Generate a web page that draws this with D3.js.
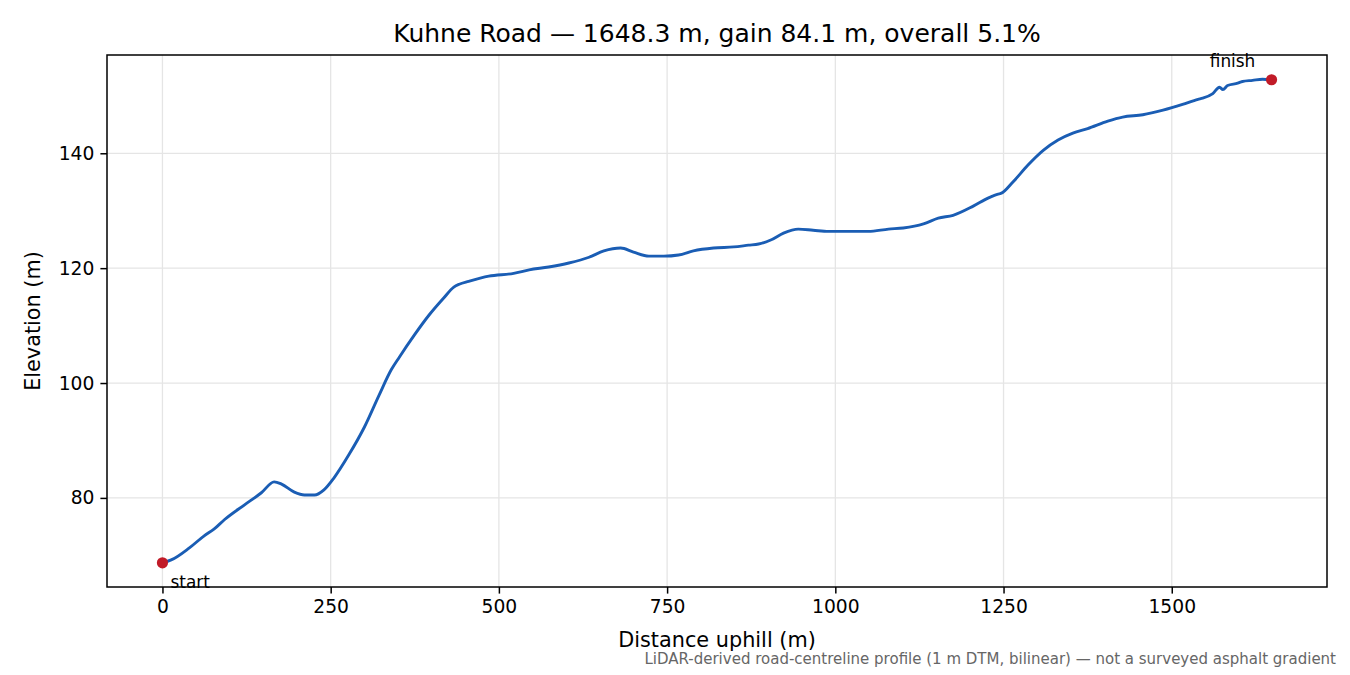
<!DOCTYPE html>
<html>
<head>
<meta charset="utf-8">
<script src="https://cdn.jsdelivr.net/npm/d3@7"></script>
<style>
  body { margin: 0; background: #fff; }
  svg { font-family: "DejaVu Sans", sans-serif; }
</style>
</head>
<body>
<svg id="chart" width="1350" height="675"></svg>
<script>

// distance uphill (m)
var distance = [0, 13, 40, 62, 77, 92, 122, 147, 166, 177, 196, 211, 226, 240, 255, 277, 300, 322, 340, 352,
	374, 396, 418, 433, 441, 455, 485, 522, 545, 574, 604, 634, 656, 681, 700, 723, 745, 767, 789, 819,
	849, 871, 886, 904, 923, 945, 967, 990, 1019, 1049, 1079, 1101, 1131, 1153, 1175, 1205, 1227, 1242, 1246, 1264,
	1286, 1309, 1331, 1353, 1375, 1405, 1427, 1457, 1487, 1516, 1539, 1546, 1561, 1571, 1576, 1583, 1598, 1605, 1620, 1635, 1648.3];

// elevation (m)
var elevation = [68.7, 69.2, 71.3, 73.4, 74.6, 76.2, 78.8, 80.9, 82.8, 82.4, 81.0, 80.5, 80.5, 81.4, 83.5, 87.5, 92.3, 97.9, 102.3, 104.5,
	108.3, 111.8, 114.8, 116.7, 117.2, 117.7, 118.6, 119.1, 119.7, 120.2, 120.9, 121.9, 123.0, 123.5, 122.8, 122.1, 122.1, 122.3, 123.0, 123.5,
	123.7, 124.0, 124.2, 124.9, 126.1, 126.8, 126.6, 126.4, 126.4, 126.4, 126.8, 127.0, 127.7, 128.7, 129.2, 130.8, 132.2, 132.9, 133.0, 135.0,
	137.9, 140.5, 142.3, 143.5, 144.3, 145.6, 146.3, 146.7, 147.5, 148.5, 149.4, 149.6, 150.4, 151.5, 151.1, 151.8, 152.2, 152.5, 152.7, 152.9, 152.8];

var xTicks = [0, 250, 500, 750, 1000, 1250, 1500];
var yTicks = [80, 100, 120, 140];

var endLabels = ['start', 'finish'];

var title = 'Kuhne Road \u2014 1648.3 m, gain 84.1 m, overall 5.1%';
var note = 'LiDAR-derived road-centreline profile (1 m DTM, bilinear) \u2014 not a surveyed asphalt gradient';

var svg = d3.select('#chart');
var margin = { left: 107, right: 23, top: 55, bottom: 88 };
var W = 1350, H = 675;

var points = distance.map(function(d, i) { return { d: d, e: elevation[i] }; });

// matplotlib style 5% padding
var xmin = d3.min(distance), xmax = d3.max(distance);
var ymin = d3.min(elevation), ymax = d3.max(elevation);
var xpad = (xmax - xmin) * 0.05, ypad = (ymax - ymin) * 0.05;

var x = d3.scaleLinear().domain([xmin - xpad, xmax + xpad]).range([margin.left, W - margin.right]);
var y = d3.scaleLinear().domain([ymin - ypad, ymax + ypad]).range([H - margin.bottom, margin.top]);

var g = svg.append('g');

// grid
var grid = g.append('g').attr('stroke', '#e5e5e5').attr('stroke-width', 1.3);
grid.selectAll('.gx').data(xTicks).enter().append('line')
	.attr('x1', function(d) { return x(d); }).attr('x2', function(d) { return x(d); })
	.attr('y1', margin.top).attr('y2', H - margin.bottom);
grid.selectAll('.gy').data(yTicks).enter().append('line')
	.attr('y1', function(d) { return y(d); }).attr('y2', function(d) { return y(d); })
	.attr('x1', margin.left).attr('x2', W - margin.right);

// profile line
var line = d3.line()
	.x(function(d) { return x(d.d); })
	.y(function(d) { return y(d.e); })
	.curve(d3.curveMonotoneX);

g.append('path').datum(points)
	.attr('d', line)
	.attr('fill', 'none')
	.attr('stroke', '#1a5db4')
	.attr('stroke-width', 2.9)
	.attr('stroke-linejoin', 'round');

// start / finish markers
var ends = [points[0], points[points.length - 1]];
g.selectAll('.dot').data(ends).enter().append('circle')
	.attr('cx', function(d) { return x(d.d); })
	.attr('cy', function(d) { return y(d.e); })
	.attr('r', 5.6)
	.attr('fill', '#c11b28');

g.append('text').attr('x', x(ends[0].d) + 8).attr('y', y(ends[0].e) + 25)
	.attr('font-size', 16.9).text(endLabels[0]);
g.append('text').attr('x', x(ends[1].d) - 39).attr('y', y(ends[1].e) - 13)
	.attr('font-size', 16.9).attr('text-anchor', 'middle').text(endLabels[1]);

// axes
var xAxis = d3.axisBottom(x).tickValues(xTicks).tickSize(6.6).tickPadding(6).tickFormat(d3.format('d'));
var yAxis = d3.axisLeft(y).tickValues(yTicks).tickSize(6.6).tickPadding(6).tickFormat(d3.format('d'));

function styleAxis(s) {
	s.select('.domain').remove();
	s.attr('font-family', null).attr('font-size', null);
	s.selectAll('line').attr('stroke', '#000').attr('stroke-width', 1.5);
	s.selectAll('text').attr('fill', '#000').style('font-size', '18.7px');
}

g.append('g').attr('transform', 'translate(0,' + (H - margin.bottom) + ')').call(xAxis).call(styleAxis);
g.append('g').attr('transform', 'translate(' + margin.left + ',0)').call(yAxis).call(styleAxis);

// frame
g.append('rect')
	.attr('x', margin.left).attr('y', margin.top)
	.attr('width', W - margin.left - margin.right)
	.attr('height', H - margin.top - margin.bottom)
	.attr('fill', 'none').attr('stroke', '#000').attr('stroke-width', 1.5);

// titles
svg.append('text').attr('x', (margin.left + W - margin.right) / 2).attr('y', 42)
	.attr('text-anchor', 'middle').attr('font-size', 25).text(title);
svg.append('text').attr('x', (margin.left + W - margin.right) / 2).attr('y', 647)
	.attr('text-anchor', 'middle').attr('font-size', 20.8).text('Distance uphill (m)');
svg.append('text').attr('transform', 'translate(40,' + ((margin.top + H - margin.bottom) / 2) + ') rotate(-90)')
	.attr('text-anchor', 'middle').attr('font-size', 20.8).text('Elevation (m)');
svg.append('text').attr('x', 1336).attr('y', 664)
	.attr('text-anchor', 'end').attr('font-size', 15).attr('fill', '#666').text(note);

</script>
</body>
</html>
